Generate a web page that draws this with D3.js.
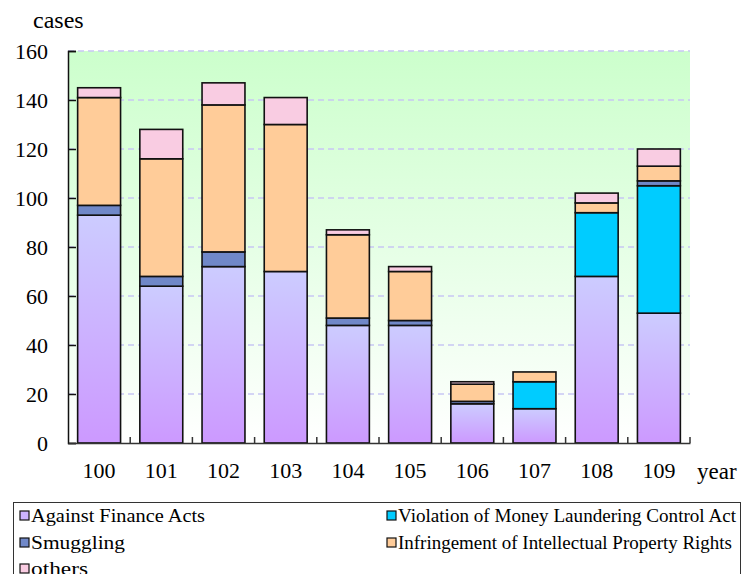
<!DOCTYPE html>
<html><head><meta charset="utf-8">
<script src="https://cdn.jsdelivr.net/npm/d3@7"></script>
</head><body style="margin:0">
<script>
const years = ["100","101","102","103","104","105","106","107","108","109"];
const seriesNames = ["Against Finance Acts","Violation of Money Laundering Control Act","Smuggling","Infringement of Intellectual Property Rights","others"];
const finance = [93,64,72,70,48,48,16,14,68,53];
const moneyLaundering = [0,0,0,0,0,0,0,11,26,52];
const smuggling = [4,4,6,0,3,2,1,0,0,2];
const ipRights = [44,48,60,60,34,20,7,4,4,6];
const others = [4,12,9,11,2,2,1,0,4,7];
const yTicks = [0,20,40,60,80,100,120,140,160];
const colors = ["url(#finGrad)","#00ccff","#7088c8","#ffcc99","#f9cce2"];
const FONT = "Liberation Serif";

const W=749,H=574;
const svg=d3.select("body").append("svg").attr("width",W).attr("height",H).style("display","block").style("font-family",FONT);
const defs=svg.append("defs");
const fg=defs.append("linearGradient").attr("id","finGrad").attr("x1",0).attr("y1",0).attr("x2",0).attr("y2",1);
fg.append("stop").attr("offset","0%").attr("stop-color","#ccccff");
fg.append("stop").attr("offset","100%").attr("stop-color","#cc99ff");
const bg=defs.append("linearGradient").attr("id","bgGrad").attr("x1",0).attr("y1",0).attr("x2",0).attr("y2",1);
bg.append("stop").attr("offset","0%").attr("stop-color","#ccffcc");
bg.append("stop").attr("offset","100%").attr("stop-color","#ffffff");

const pLeft=68,pRight=690,pTop=51,pBottom=443;
const x=d3.scaleBand().domain(years).range([pLeft,pRight]).paddingInner(0.31).paddingOuter(0.155);
const y=d3.scaleLinear().domain([0,160]).range([pBottom,pTop]);

svg.append("rect").attr("x",pLeft).attr("y",pTop).attr("width",pRight-pLeft).attr("height",pBottom-pTop).attr("fill","url(#bgGrad)");

// gridlines
svg.append("g").selectAll("line").data(yTicks.filter(d=>d>0)).join("line")
  .attr("x1",pLeft).attr("x2",pRight).attr("y1",d=>y(d)).attr("y2",d=>y(d))
  .attr("stroke","#c8c8f4").attr("stroke-width",1.5).attr("stroke-dasharray","6,4");

const table=years.map((yr,i)=>({year:yr,s0:finance[i],s1:moneyLaundering[i],s2:smuggling[i],s3:ipRights[i],s4:others[i]}));
const stack=d3.stack().keys(["s0","s1","s2","s3","s4"]);
const layers=stack(table);
layers.forEach((layer,k)=>{
  svg.append("g").selectAll("rect").data(layer.filter(d=>d[1]-d[0]>0)).join("rect")
    .attr("x",d=>x(d.data.year)).attr("width",x.bandwidth())
    .attr("y",d=>y(d[1])).attr("height",d=>y(d[0])-y(d[1]))
    .attr("fill",colors[k]).attr("stroke","#111").attr("stroke-width",1.6);
});

// y axis
const ya=svg.append("g").attr("transform",`translate(${pLeft},0)`)
  .call(d3.axisLeft(y).tickValues(yTicks).tickSize(-8).tickPadding(20));
ya.attr("font-family",FONT);
ya.select(".domain").attr("stroke","#111").attr("stroke-width",1.5);
ya.selectAll(".tick line").attr("stroke","#111").attr("stroke-width",1.5);
ya.selectAll("text").style("font-family",FONT).style("font-size","22px").attr("fill","#000");

// x axis
const xa=svg.append("g").attr("transform",`translate(0,${pBottom})`)
  .call(d3.axisBottom(x).tickSize(0).tickPadding(16));
xa.attr("font-family",FONT);
xa.select(".domain").attr("stroke","#333").attr("stroke-width",1.5);
xa.selectAll("text").style("font-family",FONT).style("font-size","22px").attr("fill","#000").attr("dy","0.85em");
const step=x.step();
const bounds=d3.range(1,years.length+1).map(i=>pLeft+x.paddingOuter()*step - x.paddingInner()*step/2 + i*step);
svg.append("g").selectAll("line").data(bounds).join("line")
  .attr("x1",d=>d).attr("x2",d=>d).attr("y1",pBottom).attr("y2",pBottom-6)
  .attr("stroke","#333").attr("stroke-width",1.5);

svg.append("text").attr("x",33).attr("y",28).text("cases").style("font-family",FONT).style("font-size","24px");
svg.append("text").attr("x",697).attr("y",479).text("year").style("font-family",FONT).style("font-size","23px");

// legend
svg.append("rect").attr("x",13.5).attr("y",502.5).attr("width",727).attr("height",90)
  .attr("fill","#fff").attr("stroke","#333").attr("stroke-width",1);
const legPos=[[20,516],[387,516],[20,543],[387,543],[20,569]];
const legLen=[174,338,94,334,57];
seriesNames.forEach((nm,k)=>{
  const [lx,ly]=legPos[k];
  svg.append("rect").attr("x",lx).attr("y",ly-5).attr("width",9).attr("height",9)
    .attr("fill",k===0?"#ccb3ff":colors[k]).attr("stroke","#111").attr("stroke-width",1.2);
  svg.append("text").attr("x",lx+11).attr("y",ly+6).text(nm)
    .attr("textLength",legLen[k]).attr("lengthAdjust","spacingAndGlyphs")
    .style("font-family",FONT).style("font-size","19px");
});
</script>
</body></html>
